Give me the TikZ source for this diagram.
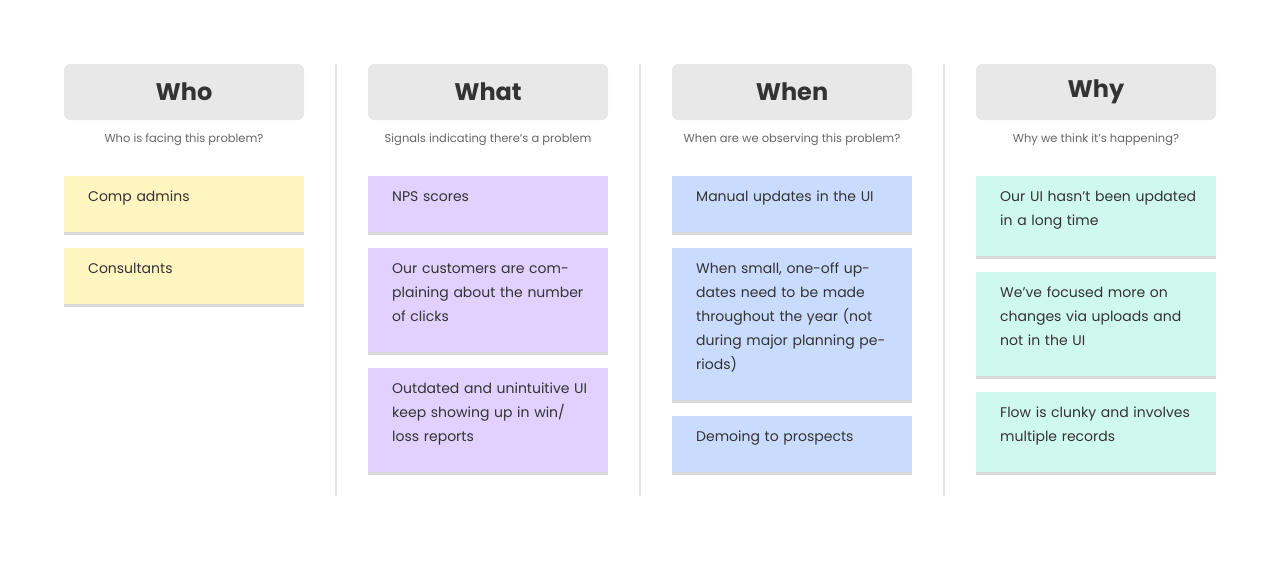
\documentclass[tikz,border=0pt]{standalone}
\usepackage{fontspec}
\setmainfont{Poppins}
\usetikzlibrary{shadows}
\definecolor{hdr}{HTML}{E8E8E8}
\definecolor{yel}{HTML}{FFF5C0}
\definecolor{pur}{HTML}{E2D1FE}
\definecolor{blu}{HTML}{C9DCFE}
\definecolor{grn}{HTML}{CFF9EF}
\definecolor{txt}{HTML}{333333}
\definecolor{sub}{HTML}{666666}
\definecolor{divc}{HTML}{E6E6E6}
\begin{document}
\begin{tikzpicture}[x=1pt,y=-1pt,
  hdrbox/.style={fill=hdr,rounded corners=6pt,draw=none},
  sticky/.style={draw=none,drop shadow={shadow xshift=0pt,shadow yshift=-3pt,opacity=0.25,fill=black!60}},
  stext/.style={anchor=north west,inner sep=0pt,text width=196pt,align=left,font=\fontsize{14}{24}\selectfont,text=txt},
  htext/.style={font=\fontsize{24}{28}\selectfont\bfseries,text=txt},
  stxt/.style={font=\fontsize{11.5}{14}\selectfont,text=sub}]
\useasboundingbox (0,0) rectangle (1280,560);
\foreach \x in {336,640,944}{\draw[divc,line width=1.5pt] (\x,64) -- (\x,496);}
% headers
\foreach \x/\h/\s in {64/Who/Who is facing this problem?,368/What/Signals indicating there's a problem,672/When/When are we observing this problem?,976/Why/Why we think it's happening?}{
  \path[hdrbox] (\x,64) rectangle ++(240,56);
  \node[htext] at (\x+120,92) {\h};
  \node[stxt] at (\x+120,140) {\s};
}
\newcommand{\stk}[6]{% x, y1, y2, color, name, text
  \path[sticky,fill=#4] (#1,#2) rectangle (#1+240,#3);
  \node[stext] (#5) at (#1+24,#2+15) {#6};}
\stk{64}{176}{232}{yel}{w1}{Comp admins}
\stk{64}{248}{304}{yel}{w2}{Consultants}
\stk{368}{176}{232}{pur}{a1}{NPS scores}
\stk{368}{248}{352}{pur}{a2}{Our customers are complaining about the number of clicks}
\stk{368}{368}{472}{pur}{a3}{Outdated and unintuitive UI keep showing up in win/\\loss reports}
\stk{672}{176}{232}{blu}{b1}{Manual updates in the UI}
\stk{672}{248}{400}{blu}{b2}{When small, one-off updates need to be made throughout the year (not during major planning periods)}
\stk{672}{416}{472}{blu}{b3}{Demoing to prospects}
\stk{976}{176}{256}{grn}{c1}{Our UI hasn't been updated in a long time}
\stk{976}{272}{376}{grn}{c2}{We've focused more on changes via uploads and not in the UI}
\stk{976}{392}{472}{grn}{c3}{Flow is clunky and involves multiple records}
\end{tikzpicture}
\end{document}
